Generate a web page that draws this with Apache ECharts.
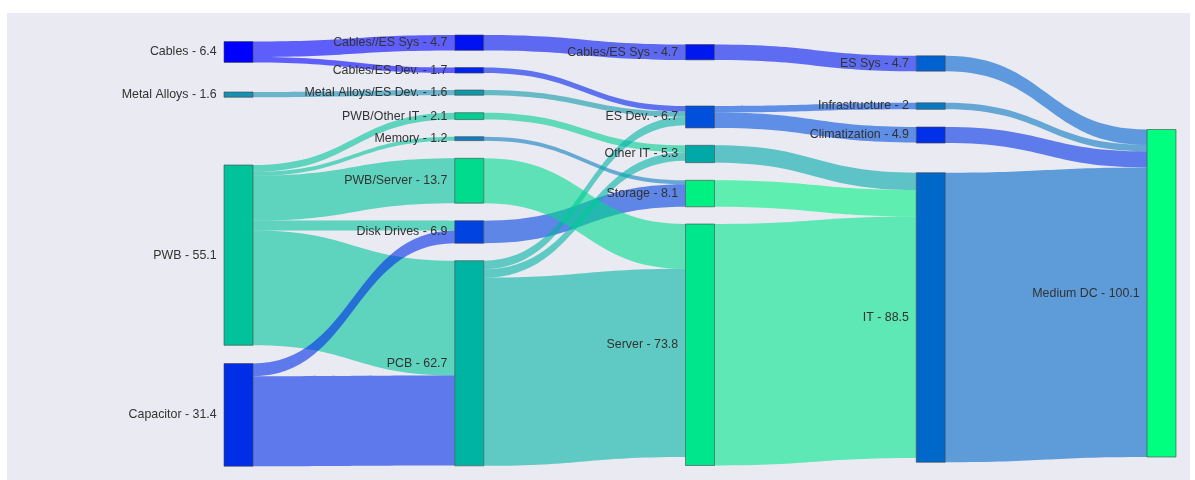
<!DOCTYPE html>
<html>
<head>
<meta charset="utf-8">
<script src="https://cdn.jsdelivr.net/npm/echarts@6/dist/echarts.min.js"></script>
<style>
  html, body { margin: 0; padding: 0; background: #ffffff; }
  #chart { width: 1195px; height: 480px; }
</style>
</head>
<body>
<div id="chart"></div>
<script>
// Material flows from components up to a medium-size data centre.

// Nodes, listed column by column, top to bottom
const nodeNames = [
  'Cables', 'Metal Alloys', 'PWB', 'Capacitor',
  'Cables//ES Sys', 'Cables/ES Dev.', 'Metal Alloys/ES Dev.', 'PWB/Other IT', 'Memory', 'PWB/Server', 'Disk Drives', 'PCB',
  'Cables/ES Sys', 'ES Dev.', 'Other IT', 'Storage', 'Server',
  'ES Sys', 'Infrastructure', 'Climatization', 'IT',
  'Medium DC'
];
const nodeValues = [
  6.4, 1.6, 55.1, 31.4,
  4.7, 1.7, 1.6, 2.1, 1.2, 13.7, 6.9, 62.7,
  4.7, 6.7, 5.3, 8.1, 73.8,
  4.7, 2, 4.9, 88.5,
  100.1
];

// Flows
const linkSources = [
  'Cables', 'Cables', 'Metal Alloys',
  'PWB', 'PWB', 'PWB', 'PWB', 'PWB',
  'Capacitor', 'Capacitor',
  'Cables//ES Sys', 'Cables/ES Dev.', 'Metal Alloys/ES Dev.', 'PWB/Other IT', 'Memory', 'Disk Drives',
  'PCB', 'PCB', 'PCB', 'PWB/Server',
  'Cables/ES Sys', 'ES Dev.', 'ES Dev.', 'Other IT', 'Storage', 'Server',
  'ES Sys', 'Infrastructure', 'Climatization', 'IT'
];
const linkTargets = [
  'Cables//ES Sys', 'Cables/ES Dev.', 'Metal Alloys/ES Dev.',
  'PWB/Other IT', 'Memory', 'PWB/Server', 'Disk Drives', 'PCB',
  'Disk Drives', 'PCB',
  'Cables/ES Sys', 'ES Dev.', 'ES Dev.', 'Other IT', 'Storage', 'Storage',
  'ES Dev.', 'Other IT', 'Server', 'Server',
  'ES Sys', 'Infrastructure', 'Climatization', 'IT', 'IT', 'IT',
  'Medium DC', 'Medium DC', 'Medium DC', 'Medium DC'
];
const linkValues = [
  4.7, 1.7, 1.6,
  2.1, 1.2, 13.7, 3.0, 35.1,
  3.9, 27.5,
  4.7, 1.7, 1.6, 2.1, 1.2, 6.9,
  2.6, 2.6, 57.5, 13.7,
  4.7, 2.0, 4.7, 5.3, 8.1, 73.8,
  4.7, 2.0, 4.9, 88.5
];

// Node fill colours
const nodeColors = [
  '#0000ff', '#1590b3', '#00c39b', '#002de6',
  '#0012f2', '#0022ee', '#0f98a8', '#00cf92', '#0e7fc0', '#00db8e', '#0043e0', '#00b4a4',
  '#0018f0', '#0050dc', '#00a8a8', '#00f082', '#00e68c',
  '#0062d0', '#0a78c0', '#0030e8', '#0068c8',
  '#00ff7f'
];

// Vertical placement of each node (top edge, px)
const nodeTopPx = [
  41.5, 92, 165, 363.5,
  35, 67.5, 90, 112.7, 136.7, 158.3, 220.7, 260.7,
  44.5, 106, 145.3, 180.3, 224,
  55.8, 102.8, 127, 172.7,
  129.5
];

const SERIES_LEFT = 224, SERIES_TOP = 34, SERIES_W = 952, SERIES_H = 432;
const PX_PER_UNIT = 3.272;
// The second column (8 nodes, 94.6 in total) is the tallest stack, so its
// gap sets the vertical scale of the whole diagram.
const col1Total = nodeValues.slice(4, 12).reduce((a, b) => a + b, 0);
const NODE_GAP = (SERIES_H - PX_PER_UNIT * col1Total) / 7;

const nodes = nodeNames.map((name, i) => ({
  name: name,
  value: nodeValues[i],
  localY: (nodeTopPx[i] - SERIES_TOP) / SERIES_H,
  itemStyle: { color: nodeColors[i] }
}));

const links = linkSources.map((s, i) => ({
  source: s,
  target: linkTargets[i],
  value: linkValues[i]
}));

const chart = echarts.init(document.getElementById('chart'), null, { renderer: 'canvas' });

chart.setOption({
  animation: false,
  backgroundColor: '#ffffff',
  graphic: [{
    type: 'rect',
    z: -10,
    silent: true,
    shape: { x: 7, y: 13, width: 1183, height: 467 },
    style: { fill: '#eaeaf2' }
  }],
  series: [{
    type: 'sankey',
    left: SERIES_LEFT,
    top: SERIES_TOP,
    width: SERIES_W,
    height: SERIES_H,
    nodeWidth: 29,
    nodeGap: NODE_GAP,
    nodeAlign: 'justify',
    layoutIterations: 0,
    draggable: false,
    emphasis: { disabled: true },
    data: nodes,
    links: links,
    itemStyle: {
      borderColor: '#444444',
      borderWidth: 0.6
    },
    lineStyle: {
      color: 'source',
      opacity: 0.6,
      curveness: 0.5
    },
    label: {
      show: true,
      position: 'left',
      distance: 7,
      fontFamily: 'Liberation Sans, Arial, sans-serif',
      fontSize: 12.4,
      color: '#333333',
      formatter: p => p.name + ' - ' + p.value
    }
  }]
});
</script>
</body>
</html>
